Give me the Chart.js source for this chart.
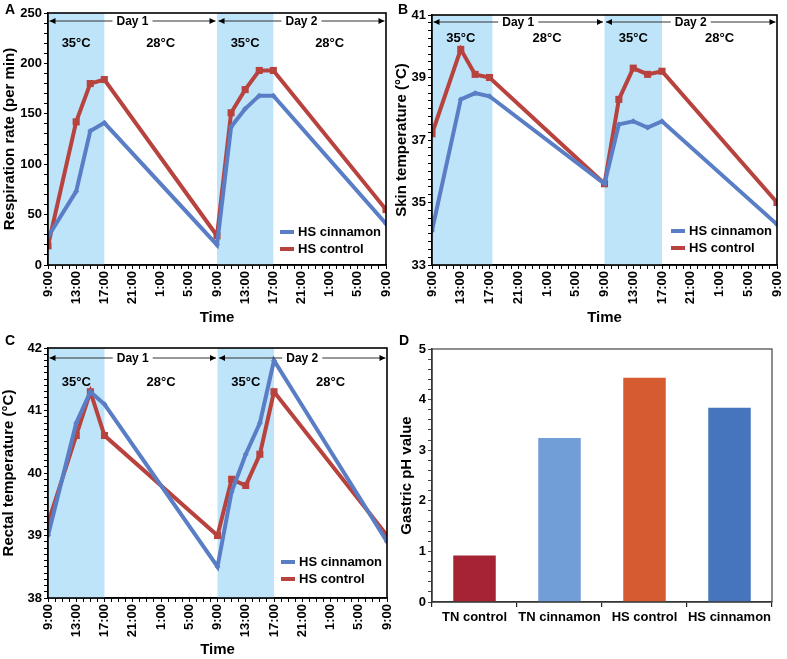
<!DOCTYPE html>
<html><head><meta charset="utf-8">
<script src="https://cdn.jsdelivr.net/npm/chart.js@4.4.1/dist/chart.umd.min.js"></script>
<style>
html,body{margin:0;padding:0;background:#fff;}
body{width:787px;height:659px;position:relative;overflow:hidden;font-family:"Liberation Sans",Arial,sans-serif;}
.panel{position:absolute;}
.panel canvas{display:block;}
.lbl{position:absolute;font-weight:bold;font-size:14px;line-height:14px;color:#000;}
</style></head><body>
<div class="panel" style="left:0;top:0"><canvas id="cA" width="393" height="327"></canvas></div>
<div class="panel" style="left:393px;top:0"><canvas id="cB" width="394" height="327"></canvas></div>
<div class="panel" style="left:0;top:327px"><canvas id="cC" width="393" height="332"></canvas></div>
<div class="panel" style="left:393px;top:327px"><canvas id="cD" width="394" height="332"></canvas></div>
<div class="lbl" style="left:5px;top:2px">A</div>
<div class="lbl" style="left:398px;top:2px">B</div>
<div class="lbl" style="left:5px;top:333px">C</div>
<div class="lbl" style="left:399px;top:333px">D</div>
<script>
// ---------- data ----------
const timeLabels = ["9:00","13:00","17:00","21:00","1:00","5:00","9:00","13:00","17:00","21:00","1:00","5:00","9:00"];
const hours = [0,4,6,8,24,26,28,30,32,48];
const respCinnamon = [28,73,133,141,20,137,155,168,168,41];
const respControl  = [19,142,180,184,29,151,174,193,193,55];
const skinCinnamon = [34.1,38.3,38.5,38.4,35.6,37.5,37.6,37.4,37.6,34.3];
const skinControl  = [37.2,39.9,39.1,39.0,35.6,38.3,39.3,39.1,39.2,35.0];
const rectalCinnamon = [39.0,40.8,41.3,41.1,38.5,39.7,40.3,40.8,41.8,38.9];
const rectalControl  = [39.2,40.6,41.3,40.6,39.0,39.9,39.8,40.3,41.3,39.0];
const phGroups = ["TN control","TN cinnamon","HS control","HS cinnamon"];
const phValues = [0.92,3.24,4.43,3.84];
const seriesNames = ["HS cinnamon","HS control"];
const heatBands = [[0,8],[24,32]];
const dayLabels = [[0,24,"Day 1"],[24,48,"Day 2"]];
const roomLabels = [[0,8,"35°C"],[8,24,"28°C"],[24,32,"35°C"],[32,48,"28°C"]];

// ---------- style ----------
const F = '"Liberation Sans", Arial, sans-serif';
Chart.defaults.font.family = F;
Chart.defaults.color = '#000';
const BLUE = '#5A7EC5', RED = '#B8433E', SHADE = '#BEE4FA';
const phColors = ['#A52333','#729ED7','#D65B30','#4675BD'];
const bold = s => ({family:F,size:s,weight:'bold'});
const noPad = s => { s.paddingLeft = 0; s.paddingRight = 0; s.paddingTop = 0; s.paddingBottom = 0; };

const bandsPlugin = {
  id:'bands',
  beforeDatasetsDraw(chart, args, o){
    const {ctx, chartArea:a, scales:{x}} = chart;
    ctx.save(); ctx.fillStyle = o.color;
    o.bands.forEach(([s,e])=>{
      const x0 = x.getPixelForValue(s), x1 = x.getPixelForValue(e);
      ctx.fillRect(x0, a.top, x1-x0, a.bottom-a.top);
    });
    ctx.restore();
  }
};
function arrowHead(ctx, x, y, dir){
  ctx.beginPath(); ctx.moveTo(x,y); ctx.lineTo(x-dir*6,y-3); ctx.lineTo(x-dir*6,y+3); ctx.closePath(); ctx.fill();
}
const daysPlugin = {
  id:'days',
  afterDatasetsDraw(chart, args, o){
    const {ctx, chartArea:a, scales:{x}} = chart;
    ctx.save();
    ctx.textAlign='center'; ctx.textBaseline='middle';
    ctx.font = 'bold 12px ' + F;
    const y = a.top + o.lineOffset;
    o.days.forEach(([s,e,t])=>{
      const x0 = x.getPixelForValue(s)+1.5, x1 = x.getPixelForValue(e)-1.5, xm = (x0+x1)/2;
      const hw = ctx.measureText(t).width/2 + 4;
      ctx.strokeStyle = '#333'; ctx.lineWidth = 1;
      ctx.beginPath(); ctx.moveTo(x0,y); ctx.lineTo(xm-hw,y); ctx.moveTo(xm+hw,y); ctx.lineTo(x1,y); ctx.stroke();
      ctx.fillStyle = '#000';
      arrowHead(ctx,x0,y,-1); arrowHead(ctx,x1,y,1);
      ctx.fillText(t, xm, y+0.5);
    });
    ctx.font = 'bold 13px ' + F;
    o.rooms.forEach(([s,e,t])=>{
      ctx.fillText(t, (x.getPixelForValue(s)+x.getPixelForValue(e))/2, a.top + o.roomOffset);
    });
    ctx.restore();
  }
};
const legendPlugin = {
  id:'inlegend',
  afterDatasetsDraw(chart, args, o){
    const {ctx, chartArea:a} = chart;
    ctx.save(); ctx.font = 'bold 13px ' + F; ctx.textBaseline='middle'; ctx.textAlign='left';
    const tx = a.right - o.right;
    chart.data.datasets.forEach((d,i)=>{
      const y = a.bottom - o.bottom + i*o.gap;
      ctx.strokeStyle = d.borderColor; ctx.lineWidth = 4; ctx.lineCap='butt';
      ctx.beginPath(); ctx.moveTo(tx-18,y); ctx.lineTo(tx-4,y); ctx.stroke();
      ctx.fillStyle = '#000'; ctx.fillText(d.label, tx, y);
    });
    ctx.restore();
  }
};
const boxPlugin = {
  id:'box',
  afterDraw(chart, args, o){
    const {ctx, chartArea:a} = chart;
    ctx.save(); ctx.strokeStyle = o.color; ctx.lineWidth = o.width;
    ctx.strokeRect(a.left, a.top, a.right-a.left, a.bottom-a.top);
    ctx.restore();
  }
};
const isMajor = (v, base, step) => { const r=(v-base)/step; return Math.abs(r-Math.round(r))<1e-6; };

function lineChart(id, cin, ctl, cfg){
  return new Chart(document.getElementById(id), {
    type:'line',
    data:{datasets:[
      {label:seriesNames[0], data:hours.map((h,i)=>({x:h,y:cin[i]})), borderColor:BLUE, backgroundColor:BLUE,
       borderWidth:4, pointStyle:'rectRot', pointRadius:3, pointBorderWidth:0, tension:0, fill:false},
      {label:seriesNames[1], data:hours.map((h,i)=>({x:h,y:ctl[i]})), borderColor:RED, backgroundColor:RED,
       borderWidth:4, pointStyle:'rect', pointRadius:5, pointBorderWidth:0, tension:0, fill:false}
    ]},
    options:{
      responsive:false, animation:false, devicePixelRatio:1,
      layout:{padding:{top:cfg.top, right:cfg.right, left:0, bottom:0}},
      plugins:{legend:{display:false}, tooltip:{enabled:false},
        bands:{bands:cfg.bands, color:SHADE},
        days:{days:dayLabels, rooms:roomLabels, lineOffset:cfg.lineOff, roomOffset:cfg.roomOff},
        inlegend:{right:88, bottom:cfg.legBottom, gap:17},
        box:{color:'#000', width:1.6}},
      scales:{
        x:{type:'linear', min:0, max:48,
          afterFit:s=>{s.height=cfg.xH; noPad(s);},
          ticks:{stepSize:1, autoSkip:false, maxRotation:90, minRotation:90, padding:2, font:bold(13), color:'#000',
            callback:v=> (v%4===0 ? timeLabels[v/4] : '')},
          grid:{drawOnChartArea:false, color:'#000', tickLength:4, lineWidth:1},
          border:{color:'#000', width:1.6},
          title:{display:true, text:'Time', font:bold(15), color:'#000', padding:{top:0,bottom:0}}
        },
        y:{min:cfg.yMin, max:cfg.yMax,
          afterFit:s=>{s.width=cfg.yW; noPad(s);},
          ticks:{stepSize:cfg.minor, autoSkip:false, padding:2, font:bold(13), color:'#000',
            callback:v=> (isMajor(v,cfg.yMin,cfg.major) ? String(Math.round(v)) : '')},
          grid:{drawOnChartArea:false, color:'#000', tickLength:4, lineWidth:1},
          border:{color:'#000', width:1.6},
          title:{display:true, text:cfg.yTitle, font:bold(15), color:'#000', padding:{top:cfg.tPad,bottom:0}}
        }
      }
    },
    plugins:[bandsPlugin, daysPlugin, legendPlugin, boxPlugin]
  });
}

lineChart('cA', respCinnamon, respControl, {top:13, right:7, yW:48, xH:62, yMin:0, yMax:250, minor:10, major:50,
  yTitle:'Respiration rate (per min)', tPad:1, bands:heatBands, lineOff:8, roomOff:30, legBottom:33});
lineChart('cB', skinCinnamon, skinControl, {top:15, right:10, yW:39, xH:62, yMin:33, yMax:41, minor:0.25, major:2,
  yTitle:'Skin temperature (°C)', tPad:0, bands:[[0,8.4],[24,32]], lineOff:7, roomOff:23, legBottom:34});
lineChart('cC', rectalCinnamon, rectalControl, {top:21, right:6, yW:48, xH:61, yMin:38, yMax:42, minor:0.1, major:1,
  yTitle:'Rectal temperature (°C)', tPad:0, bands:heatBands, lineOff:10, roomOff:34, legBottom:36});

new Chart(document.getElementById('cD'), {
  type:'bar',
  data:{labels:phGroups, datasets:[{data:phValues, backgroundColor:phColors, barPercentage:0.5, categoryPercentage:1, borderWidth:0}]},
  options:{
    responsive:false, animation:false, devicePixelRatio:1,
    layout:{padding:{top:22, right:15, left:0, bottom:0}},
    plugins:{legend:{display:false}, tooltip:{enabled:false}, box:{color:'#444', width:1.2}},
    scales:{
      x:{afterFit:s=>{s.height=57; noPad(s);},
        ticks:{font:bold(13), color:'#000', padding:3, maxRotation:0, autoSkip:false},
        grid:{offset:true, drawOnChartArea:false, color:'#222', tickLength:5, lineWidth:1.2},
        border:{color:'#222', width:1.5}},
      y:{min:0, max:5, afterFit:s=>{s.width=39; noPad(s);},
        ticks:{stepSize:0.2, autoSkip:false, padding:2, font:bold(13), color:'#000',
          callback:v=> (isMajor(v,0,1) ? String(Math.round(v)) : '')},
        grid:{drawOnChartArea:false, color:'#444', tickLength:4, lineWidth:1},
        border:{color:'#222', width:1.5},
        title:{display:true, text:'Gastric pH value', font:bold(15), color:'#000', padding:{top:5,bottom:0}}}
    }
  },
  plugins:[boxPlugin]
});
</script>
</body></html>
